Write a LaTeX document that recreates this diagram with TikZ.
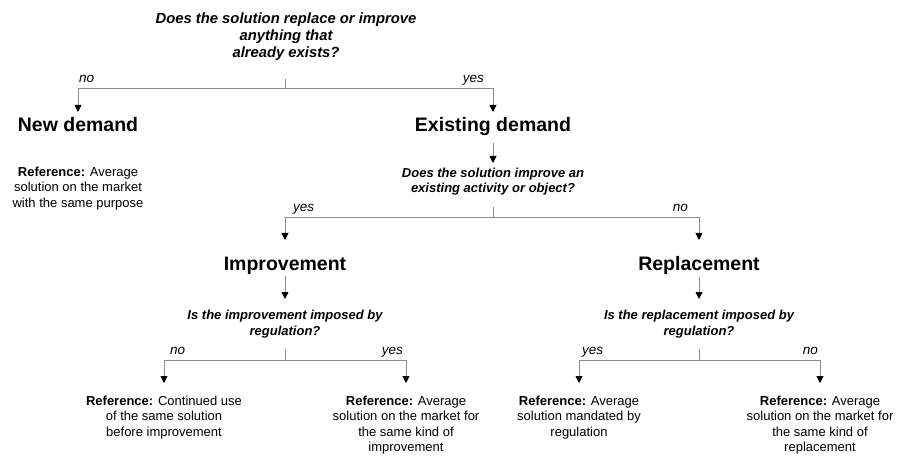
\documentclass[tikz,border=0pt]{standalone}
\usepackage{fontspec}
\setmainfont{Liberation Sans}
\usetikzlibrary{arrows.meta}
\definecolor{lineg}{RGB}{140,140,146}
\begin{document}
\begin{tikzpicture}[x=1pt,y=-1pt,
  qtop/.style={font=\fontsize{14.8}{17}\selectfont\bfseries\itshape, align=center, inner sep=0pt, anchor=north},
  qbox/.style={font=\fontsize{13}{15.5}\selectfont\bfseries\itshape, align=center, inner sep=0pt, anchor=north},
  head/.style={font=\fontsize{19.5}{23}\selectfont\bfseries, inner sep=0pt, anchor=north},
  refbox/.style={font=\fontsize{13}{15.3}\selectfont, align=center, inner sep=0pt, anchor=north},
  lab/.style={font=\fontsize{13.5}{16}\selectfont\itshape, inner sep=0pt},
  ln/.style={draw=lineg, line width=0.9pt},
  arr/.style={ln, -{Triangle[length=7pt,width=7pt,color=black]}}]
\fill[white] (0,0) rectangle (897,457);
\useasboundingbox (0,0) rectangle (897,457);

% level 0
\node[qtop] (q1) at (286,12.5) {Does the solution replace or improve\\anything that\\already exists?};
\coordinate (j1) at (285,88);
\node[head] (nd) at (78,117) {New demand};
\node[head] (ed) at (493,117) {Existing demand};
\node[refbox] (rnd) at (78,167) {\textbf{Reference:} Average\\solution on the market\\with the same purpose};
\node[lab, anchor=base west] (l1no) at (79,83) {no};
\node[lab, anchor=base east] (l1yes) at (484,83) {yes};
\draw[ln, shorten <=18pt] (q1.south -| j1) -- (j1);
\draw[arr, shorten >=5pt] (j1) -| (nd.north);
\draw[arr, shorten >=5pt] (j1) -| (ed.north);

% level 1
\node[qbox] (q2) at (493,167.5) {Does the solution improve an\\existing activity or object?};
\draw[arr, shorten <=7pt, shorten >=4.5pt] (ed.south) -- (q2.north);
\coordinate (j2) at (493,217);
\node[head] (imp) at (285,256.5) {Improvement};
\node[head] (rep) at (699,256.5) {Replacement};
\node[lab, anchor=base west] (l2yes) at (293,212) {yes};
\node[lab, anchor=base east] (l2no) at (688,212) {no};
\draw[ln, shorten <=11pt] (q2.south) -- (j2);
\draw[arr, shorten >=16.5pt] (j2) -| (imp.north);
\draw[arr, shorten >=16.5pt] (j2) -| (rep.north);

% level 2
\node[qbox] (q3) at (285,310) {Is the improvement imposed by\\regulation?};
\node[qbox] (q4) at (699,310) {Is the replacement imposed by\\regulation?};
\draw[arr, shorten <=2pt, shorten >=11pt] (imp.south) -- (q3.north);
\draw[arr, shorten <=2pt, shorten >=11pt] (rep.south) -- (q4.north);
\coordinate (j3) at (285,360);
\coordinate (j4) at (699,360);
\draw[ln, shorten <=11pt] (q3.south) -- (j3);
\draw[ln, shorten <=11pt] (q4.south) -- (j4);

\node[refbox] (r1) at (164,396) {\textbf{Reference:} Continued use\\of the same solution\\before improvement};
\node[refbox] (r2) at (406,396) {\textbf{Reference:} Average\\solution on the market for\\the same kind of\\improvement};
\node[refbox] (r3) at (579,396) {\textbf{Reference:} Average\\solution mandated by\\regulation};
\node[refbox] (r4) at (820,396) {\textbf{Reference:} Average\\solution on the market for\\the same kind of\\replacement};

\node[lab, anchor=base west] (l3no) at (170,354) {no};
\node[lab, anchor=base east] (l3yes) at (403,354) {yes};
\node[lab, anchor=base west] (l4yes) at (582,354) {yes};
\node[lab, anchor=base east] (l4no) at (818,354) {no};

\draw[arr, shorten >=13pt] (j3) -| (r1.north);
\draw[arr, shorten >=13pt] (j3) -| (r2.north);
\draw[arr, shorten >=13pt] (j4) -| (r3.north);
\draw[arr, shorten >=13pt] (j4) -| (r4.north);
\end{tikzpicture}
\end{document}
